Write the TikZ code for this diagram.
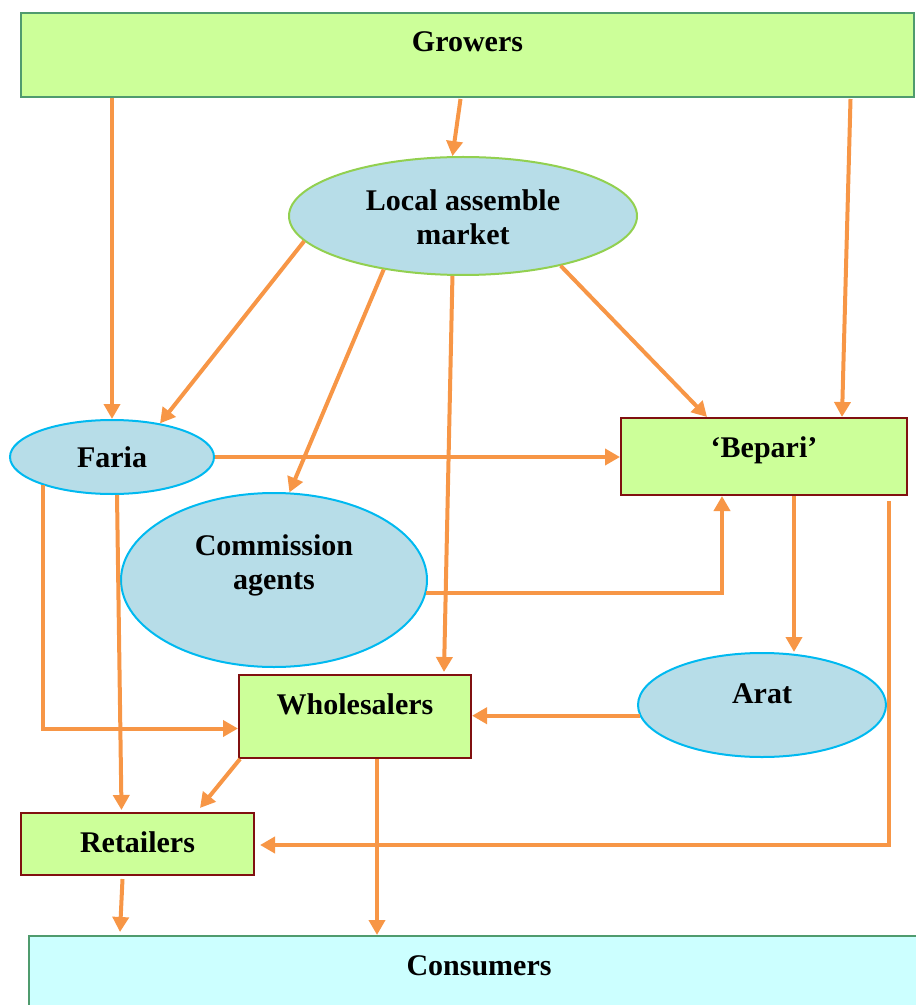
\documentclass[tikz,border=0pt]{standalone}
\usepackage{fontspec}
\setmainfont{Liberation Serif}
\usetikzlibrary{arrows.meta,shapes.geometric,calc}
\definecolor{leaf}{RGB}{204,255,153}
\definecolor{mint}{RGB}{204,255,255}
\definecolor{sky}{RGB}{183,221,232}
\definecolor{flow}{RGB}{247,150,70}
\definecolor{edgegreen}{RGB}{79,155,110}
\definecolor{edgered}{RGB}{128,16,16}
\definecolor{edgelime}{RGB}{146,208,80}
\definecolor{edgecyan}{RGB}{0,185,240}
\begin{document}
\begin{tikzpicture}[x=0.5pt,y=-0.5pt,
  every node/.style={font=\fontsize{15}{17}\selectfont\bfseries,inner sep=0pt,align=center},
  box/.style={rectangle,draw=edgered,line width=1pt,fill=leaf,text height=19.5pt,anchor=north west},
  oval/.style={ellipse,draw=edgecyan,line width=1pt,fill=sky,inner sep=2pt,text height=10pt},
  flowto/.style={draw=flow,line width=2pt,-{Triangle[length=7.5pt,width=8pt]}}]
\useasboundingbox (0,0) rectangle (915,1005);
\node[box,draw=edgegreen,minimum width=446.5pt,text depth=22.5pt] (grow) at (20,12) {Growers};
\node[oval,draw=edgelime,minimum width=174pt,minimum height=59pt,text height=29pt,text depth=0pt] (lam) at (463,216) {Local assemble\\market};
\node[oval,minimum width=102pt,minimum height=37pt,text depth=0pt] (faria) at (112,457) {Faria};
\node[oval,minimum width=153pt,minimum height=87pt,text height=27pt,text depth=18pt] (comm) at (274,580) {Commission\\agents};
\node[box,minimum width=143pt,text depth=19pt] (bepari) at (620,417) {‘Bepari’};
\node[oval,minimum width=124pt,minimum height=52pt,text depth=12pt] (arat) at (762,705) {Arat};
\node[box,minimum width=116pt,text depth=22pt] (whole) at (238,674) {Wholesalers};
\node[box,minimum width=116.5pt,text depth=11.5pt] (retail) at (20,812) {Retailers};
\node[box,draw=edgegreen,fill=mint,minimum width=450pt,text depth=30pt] (cons) at (28,935) {Consumers};
\draw[flowto] (grow.south -| faria.north) -- (faria.north);
\draw[flowto] ($(grow.south)+(-7,1)$) -- (lam.100);
\draw[flowto] ($(grow.south)+(383,1)$) -- ($(bepari.north west)+(222,0)$);
\draw[flowto] (lam.189) -- (faria.35);
\draw[flowto] (lam.214) -- (comm.80);
\draw[flowto] (lam.260) -- ($(whole.north east)+(-28,-2)$);
\draw[flowto] (lam.333) -- ($(bepari.north west)+(87,0)$);
\draw[flowto] (faria.east) -- (faria.east -| bepari.west);
\draw[flowto] (faria.202) |- ($(whole.west)+(0,12)$);
\draw[flowto] ($(faria.south)+(5,0)$) -- ($(retail.north)+(-16,-2)$);
\draw[flowto] (comm.355) -| ($(bepari.south west)+(102,0)$);
\coordinate (bp) at ($(bepari.south)+(30,0)$);
\draw[flowto] (bp) -- (bp |- arat.north);
\draw[flowto] ($(bepari.south east)+(-19,5)$) |- ($(retail.east)+(5,1)$);
\draw[flowto] (arat.185) -- (arat.185 -| whole.east);
\draw[flowto] ($(whole.south west)+(2,0)$) -- ($(retail.north east)+(-55,-4)$);
\coordinate (wb) at ($(whole.south)+(22,0)$);
\draw[flowto] (wb) -- (wb |- cons.north);
\draw[flowto] ($(retail.south)+(-15,3)$) -- ($(cons.north west)+(92,-3)$);
\end{tikzpicture}
\end{document}
